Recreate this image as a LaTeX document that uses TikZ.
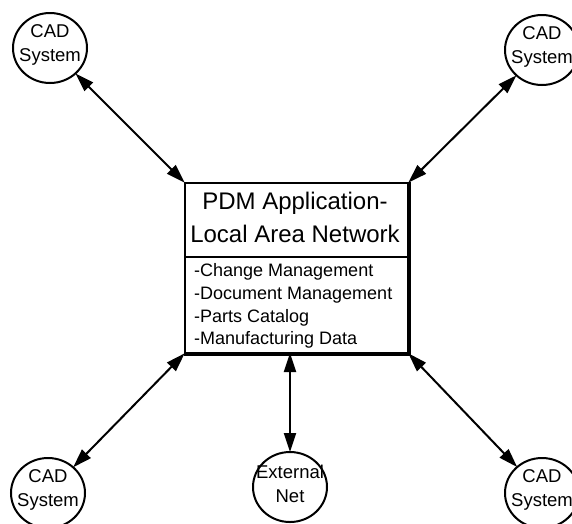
\documentclass[tikz,border=0pt]{standalone}
\usepackage{fontspec}
\setmainfont{Liberation Sans}
\usetikzlibrary{arrows.meta,shapes.geometric}
\tikzset{
  sys/.style={ellipse, draw, line width=2pt, minimum width=74pt, minimum height=70pt, inner sep=0pt},
  systext/.style={align=center, inner sep=0pt, font=\fontsize{18.5}{24}\selectfont},
  link/.style={line width=2pt, {Triangle[length=19pt,width=12pt]}-{Triangle[length=19pt,width=12pt]}, shorten <=-1pt, shorten >=-1pt},
  title/.style={anchor=base, inner sep=0pt, font=\fontsize{24}{28}\selectfont},
  item/.style={anchor=base west, inner sep=0pt, font=\fontsize{18}{21}\selectfont},
}
\begin{document}
\begin{tikzpicture}[x=1pt,y=-1pt]
\useasboundingbox (0,0) rectangle (572,523);
\clip (0,0) rectangle (572,523);
% main box
\node[draw, line width=2pt, minimum width=223pt, minimum height=170pt, inner sep=0pt] (box) at (296.5,268) {};
\draw[line width=3pt] (box.north east) -- (box.south east) -- (box.south west);
\coordinate (dl) at (185,257);
\coordinate (dr) at (408,257);
\draw[line width=2pt] (dl) -- (dr);
\node[title] (t1) at (295,209) {PDM Application-};
\node[title] (t2) at (295,242) {Local Area Network};
\node[item] (i1) at (194,276) {-Change Management};
\node[item] (i2) at (194,299) {-Document Management};
\node[item] (i3) at (194,322) {-Parts Catalog};
\node[item] (i4) at (194,344) {-Manufacturing Data};
% satellites
\node[sys] (tl) at (50,48) {};
\node[systext] (tlt) at (50,45) {CAD\\System};
\node[sys] (tr) at (542,50) {};
\node[systext] (trt) at (542,47) {CAD\\System};
\node[sys] (bl) at (48,493) {};
\node[systext] (blt) at (48,490) {CAD\\System};
\node[sys] (bn) at (290,487) {};
\node[systext] (bnt) at (290,484) {External\\Net};
\node[sys] (br) at (542,493) {};
\node[systext] (brt) at (542,490) {CAD\\System};
% connectors
\draw[link] (tl) -- (box.north west);
\draw[link] (tr) -- (box.north east);
\draw[link] (bl) -- (box.south west);
\draw[link] (br) -- (box.south east);
\draw[link] (bn) -- (bn |- box.south);
\end{tikzpicture}
\end{document}
